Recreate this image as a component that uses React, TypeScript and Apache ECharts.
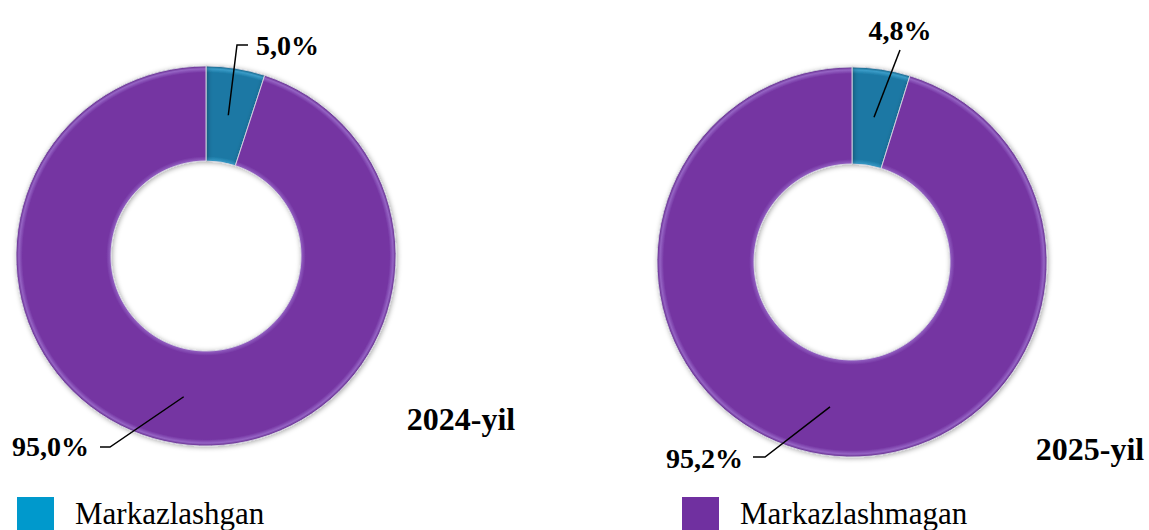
import React, { useEffect, useRef } from 'react';
import * as echarts from 'echarts';

// ---- data ----
const CATEGORIES = ['Markazlashgan', 'Markazlashmagan'];
const YEARS = ['2024-yil', '2025-yil'];
const VALUES_2024 = [5.0, 95.0];
const VALUES_2025 = [4.8, 95.2];

// ---- styles ----
const SLICE_COLORS = ['#1a78a4', '#7434a2'];
const SLICE_EDGE_LIGHT = ['#3a9cc8', '#9564c4'];
const SLICE_EDGE_DARK = ['#125d80', '#5f2788'];
const LEGEND_COLORS = ['#0099cc', '#7030a0'];
const FONT = '"Liberation Serif", "Times New Roman", serif';

// layout per donut (center, radii, label guide offsets relative to center)
const LEFT_LAYOUT = {
  center: [206, 256],
  radius: [95, 190],
  yearPos: [461, 419],
  guides: [
    { pts: [[31, -211], [42, -211]], text: [50, -211], align: 'left' },
    { pts: [[-96, 191], [-106, 191]], text: [-117, 190.5], align: 'right' },
  ],
};
const RIGHT_LAYOUT = {
  center: [852, 262],
  radius: [98, 195],
  yearPos: [1090, 449],
  guides: [
    { pts: [[48, -212]], text: [48, -232], align: 'center' },
    { pts: [[-87, 195], [-99, 195]], text: [-109, 196], align: 'right' },
  ],
};

function fmt(v: number) {
  return v.toFixed(1).replace('.', ',') + '%';
}

function midAnchor(values: number[], idx: number, center: number[], rMid: number) {
  const total = values.reduce((a, b) => a + b, 0);
  let cum = 0;
  for (let i = 0; i < idx; i++) cum += values[i];
  const ang = ((cum + values[idx] / 2) / total) * Math.PI * 2;
  return [center[0] + rMid * Math.sin(ang), center[1] - rMid * Math.cos(ang)];
}

function sliceFill(i: number, layout: any) {
  const [cx, cy] = layout.center;
  const [r0, r1] = layout.radius;
  const f0 = r0 / r1;
  return new echarts.graphic.RadialGradient(
    cx,
    cy,
    r1,
    [
      { offset: 0, color: SLICE_EDGE_LIGHT[i] },
      { offset: f0, color: SLICE_EDGE_LIGHT[i] },
      { offset: f0 + 0.025, color: SLICE_COLORS[i] },
      { offset: 0.965, color: SLICE_COLORS[i] },
      { offset: 0.985, color: SLICE_EDGE_LIGHT[i] },
      { offset: 1, color: SLICE_EDGE_DARK[i] },
    ],
    true
  );
}

function makeSeries(name: string, values: number[], layout: any) {
  const [cx, cy] = layout.center;
  return {
    type: 'pie',
    name,
    center: layout.center,
    radius: layout.radius,
    startAngle: 90,
    clockwise: true,
    avoidLabelOverlap: false,
    silent: true,
    itemStyle: {
      borderColor: 'rgba(215,215,225,0.9)',
      borderWidth: 1,
      shadowBlur: 5,
      shadowColor: 'rgba(0,0,0,0.35)',
      shadowOffsetX: 1,
      shadowOffsetY: 1,
    },
    label: {
      show: true,
      position: 'outside',
      formatter: (p: any) => fmt(p.value),
      fontFamily: FONT,
      fontWeight: 'bold',
      fontSize: 28,
      color: '#000',
    },
    labelLine: { show: false },
    labelLayout: (params: any) => {
      const g = layout.guides[params.dataIndex];
      return {
        x: cx + g.text[0],
        y: cy + g.text[1],
        align: g.align,
        verticalAlign: 'middle',
      };
    },
    data: CATEGORIES.map((c, i) => ({
      name: c,
      value: values[i],
      itemStyle: { color: sliceFill(i, layout) },
    })),
  };
}

function guideLines(values: number[], layout: any) {
  const [cx, cy] = layout.center;
  const rMid = (layout.radius[0] + layout.radius[1]) / 2;
  return values.map((_, i) => {
    const a = midAnchor(values, i, layout.center, rMid);
    const g = layout.guides[i];
    return {
      type: 'polyline',
      z: 100,
      silent: true,
      shape: { points: [a, ...g.pts.map((p: number[]) => [cx + p[0], cy + p[1]])] },
      style: { stroke: '#000', lineWidth: 1.5, fill: null },
    };
  });
}

export default function App() {
  const ref = useRef<HTMLDivElement>(null);
  useEffect(() => {
    if (!ref.current) return;
    const chart = echarts.init(ref.current, null, { renderer: 'svg' });
    const legendCommon = {
      top: 497,
      padding: 0,
      icon: 'rect',
      itemWidth: 37,
      itemHeight: 33,
      selectedMode: false,
      textStyle: {
        fontFamily: FONT,
        fontSize: 31,
        color: '#000',
        padding: [0, 0, 6, 16],
      },
    };
    chart.setOption({
      animation: false,
      backgroundColor: '#fff',
      legend: [
        {
          ...legendCommon,
          left: 17,
          data: [{ name: CATEGORIES[0], itemStyle: { color: LEGEND_COLORS[0], borderWidth: 0, shadowBlur: 0 } }],
        },
        {
          ...legendCommon,
          left: 682,
          data: [{ name: CATEGORIES[1], itemStyle: { color: LEGEND_COLORS[1], borderWidth: 0, shadowBlur: 0 } }],
        },
      ],
      graphic: [
        ...[LEFT_LAYOUT, RIGHT_LAYOUT].map((l, i) => ({
          type: 'text',
          x: l.yearPos[0],
          y: l.yearPos[1],
          style: {
            text: YEARS[i],
            fontFamily: FONT,
            fontWeight: 'bold',
            fontSize: 32,
            fill: '#000',
            align: 'center',
            verticalAlign: 'middle',
          },
        })),
        ...guideLines(VALUES_2024, LEFT_LAYOUT),
        ...guideLines(VALUES_2025, RIGHT_LAYOUT),
      ],
      series: [
        makeSeries(YEARS[0], VALUES_2024, LEFT_LAYOUT),
        makeSeries(YEARS[1], VALUES_2025, RIGHT_LAYOUT),
      ],
    });
    return () => chart.dispose();
  }, []);
  return (
    <div
      ref={ref}
      style={{ position: 'fixed', left: 0, top: 0, width: 1149, height: 530 }}
    />
  );
}
